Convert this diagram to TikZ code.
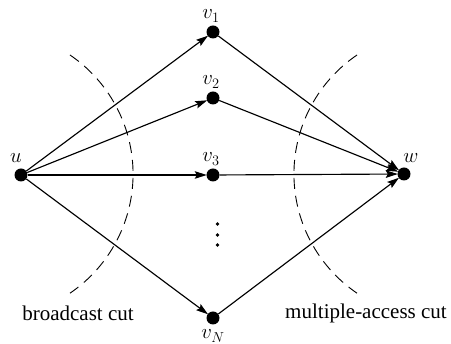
\documentclass[tikz,border=0pt]{standalone}
\usepackage{fontspec}
\setmainfont{Liberation Serif}
\newfontfamily\cutfont{Liberation Serif}
\usetikzlibrary{arrows.meta}
\begin{document}
\begin{tikzpicture}[x=1pt,y=-1pt,
  vertex/.style={circle,fill=black,inner sep=0pt,minimum size=13pt},
  lbl/.style={inner sep=0pt,font=\fontsize{21}{25}\selectfont},
  edge/.style={line width=1.15pt,-{Stealth[length=12pt,width=7.5pt,inset=2pt]},shorten >=-0.5pt},
  cutline/.style={line width=0.9pt,dash pattern=on 11pt off 7pt},
  cutlabel/.style={inner sep=0pt,font=\cutfont\fontsize{21}{25}\selectfont}]
  \useasboundingbox (0,0) rectangle (451,344);

  % nodes
  \node[vertex] (u)  at (21,175)  {};
  \node[vertex] (v1) at (213,32)  {};
  \node[vertex] (v2) at (213,98)  {};
  \node[vertex] (v3) at (213,175) {};
  \node[vertex] (vN) at (213,318) {};
  \node[vertex] (w)  at (404,174) {};

  % node labels
  \node[lbl] (lu)  at (16,158)  {$u$};
  \node[lbl] (lv1) at (211,16)  {$v_1$};
  \node[lbl] (lv2) at (211,82)  {$v_2$};
  \node[lbl] (lv3) at (211,159) {$v_3$};
  \node[lbl] (lvN) at (213,336) {$v_N$};
  \node[lbl] (lw)  at (411,158) {$w$};

  % vertical dots
  \foreach \yy in {224,235,245}
    \fill (217.5,\yy) circle (1.8pt);

  % edges
  \foreach \v in {v1,v2,v3,vN} {
    \draw[edge] (u) -- (\v);
    \draw[edge] (\v) -- (w);
  }

  % cuts
  \draw[cutline] (70,55) arc[start angle=-55.8,end angle=55.8,radius=144];
  \draw[cutline] (357,55) arc[start angle=235.8,end angle=124.2,radius=144];

  \node[cutlabel] (bc) at (78,313) {broadcast cut};
  \node[cutlabel] (mc) at (366,313) {multiple-access cut};
\end{tikzpicture}
\end{document}
